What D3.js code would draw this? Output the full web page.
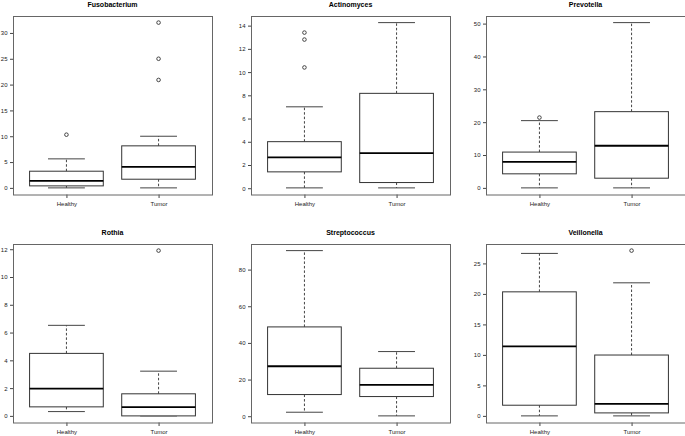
<!DOCTYPE html>
<html>
<head>
<meta charset="utf-8">
<script src="https://cdn.jsdelivr.net/npm/d3@7"></script>
<style>
  html, body { margin: 0; padding: 0; background: #fff; }
  svg { display: block; font-family: "Liberation Sans", Arial, sans-serif; }
  svg text { opacity: 0.999; }
</style>
</head>
<body>
<svg id="chart" width="685" height="436"></svg>
<script>
// ---- data ----
const groups = ["Healthy", "Tumor"];
const genera = ["Fusobacterium", "Actinomyces", "Prevotella", "Rothia", "Streptococcus", "Veillonella"];
// [lower whisker, Q1, median, Q3, upper whisker]
const healthyStats = [
  [0, 0.39, 1.36, 3.23, 5.62],
  [0.03, 1.41, 2.66, 4.01, 7.01],
  [0, 4.28, 7.94, 10.9, 20.47],
  [0.31, 0.65, 1.97, 4.50, 6.52],
  [2.18, 11.82, 27.27, 48.73, 90.36],
  [0, 1.75, 11.40, 20.34, 26.64]
];
const tumorStats = [
  [0, 1.68, 4.07, 8.14, 10.0],
  [0.03, 0.49, 3.03, 8.17, 14.26],
  [0, 2.95, 12.83, 23.2, 50.3],
  [0, 0, 0.63, 1.59, 3.22],
  [0.18, 10.73, 17.09, 26.18, 35.27],
  [0, 0.49, 1.97, 9.98, 21.82]
];
const healthyOutliers = [[10.3], [13.4, 12.8, 10.4], [21.4], [], [], []];
const tumorOutliers = [[32.0, 25.0, 20.9], [], [], [11.9], [], [27.1]];
const yTicks = [
  [0, 5, 10, 15, 20, 25, 30],
  [0, 2, 4, 6, 8, 10, 12, 14],
  [0, 10, 20, 30, 40, 50],
  [0, 2, 4, 6, 8, 10, 12],
  [0, 20, 40, 60, 80],
  [0, 5, 10, 15, 20, 25]
];

// ---- layout ----
const colLeft = [13, 251, 486];
const rowTop = [16, 244];
const panelW = 199, panelH = 178.5;

const svg = d3.select("#chart");

genera.forEach((name, i) => {
  const col = i % 3, row = Math.floor(i / 3);
  const x0 = colLeft[col], y0 = rowTop[row];
  const stats = [healthyStats[i], tumorStats[i]];
  const outs = [healthyOutliers[i], tumorOutliers[i]];

  const allVals = stats.flat().concat(outs.flat());
  const mn = d3.min(allVals), mx = d3.max(allVals);
  const pad = (mx - mn) * 0.04;

  const y = d3.scaleLinear().domain([mn - pad, mx + pad]).range([y0 + panelH, y0]);
  const x = d3.scaleLinear().domain([0.42, 2.58]).range([x0, x0 + panelW]);

  const g = svg.append("g");

  // title
  g.append("text")
    .attr("x", x0 + panelW / 2).attr("y", y0 - 9)
    .attr("text-anchor", "middle")
    .attr("font-size", 7).attr("font-weight", "bold").attr("fill", "#000")
    .text(name);

  // y axis
  const yAxis = d3.axisLeft(y).tickValues(yTicks[i]).tickSize(3.5).tickPadding(2.5).tickFormat(d3.format("d"));
  const ya = g.append("g").attr("transform", `translate(${x0 + 0.5},0)`).call(yAxis);
  ya.select(".domain").remove();
  ya.selectAll(".tick line").attr("stroke", "#444");
  ya.selectAll(".tick text").attr("font-size", 6).attr("fill", "#222").attr("font-family", "Liberation Sans, Arial, sans-serif");
  // R axis line from first to last tick
  const tk = yTicks[i];
  g.append("line")
    .attr("x1", x0 + 0.5).attr("x2", x0 + 0.5)
    .attr("y1", y(tk[0])).attr("y2", y(tk[tk.length - 1]))
    .attr("stroke", "#444");

  // x axis
  const xAxis = d3.axisBottom(x).tickValues([1, 2]).tickSize(3.5).tickPadding(4)
    .tickFormat(d => groups[d - 1]);
  const xa = g.append("g").attr("transform", `translate(0,${y0 + panelH})`).call(xAxis);
  xa.select(".domain").remove();
  xa.selectAll(".tick line").attr("stroke", "#444");
  xa.selectAll(".tick text").attr("font-size", 6).attr("fill", "#222").attr("font-family", "Liberation Sans, Arial, sans-serif");

  // frame
  g.append("rect")
    .attr("x", x0 + 0.5).attr("y", y0 + 0.5)
    .attr("width", panelW).attr("height", panelH)
    .attr("fill", "none").attr("stroke", "#666").attr("stroke-width", 1);

  // boxes
  stats.forEach((s, k) => {
    const c = k + 1;
    const bw = 0.4, cw = 0.2;
    const bg = g.append("g");
    // whiskers (dashed)
    bg.append("line").attr("x1", x(c)).attr("x2", x(c)).attr("y1", y(s[3])).attr("y2", y(s[4]))
      .attr("stroke", "#444").attr("stroke-dasharray", "2.5,2");
    bg.append("line").attr("x1", x(c)).attr("x2", x(c)).attr("y1", y(s[1])).attr("y2", y(s[0]))
      .attr("stroke", "#444").attr("stroke-dasharray", "2.5,2");
    // caps
    bg.append("line").attr("x1", x(c - cw)).attr("x2", x(c + cw)).attr("y1", y(s[4])).attr("y2", y(s[4]))
      .attr("stroke", "#444");
    bg.append("line").attr("x1", x(c - cw)).attr("x2", x(c + cw)).attr("y1", y(s[0])).attr("y2", y(s[0]))
      .attr("stroke", "#444");
    // box
    bg.append("rect")
      .attr("x", x(c - bw)).attr("y", y(s[3]))
      .attr("width", x(c + bw) - x(c - bw)).attr("height", y(s[1]) - y(s[3]))
      .attr("fill", "#fff").attr("stroke", "#333").attr("stroke-width", 1);
    // median
    bg.append("line").attr("x1", x(c - bw)).attr("x2", x(c + bw)).attr("y1", y(s[2])).attr("y2", y(s[2]))
      .attr("stroke", "#000").attr("stroke-width", 1.8);
    // outliers
    bg.selectAll("circle").data(outs[k]).enter().append("circle")
      .attr("cx", x(c)).attr("cy", d => y(d)).attr("r", 1.8)
      .attr("fill", "none").attr("stroke", "#333").attr("stroke-width", 0.9);
  });
});
</script>
</body>
</html>
